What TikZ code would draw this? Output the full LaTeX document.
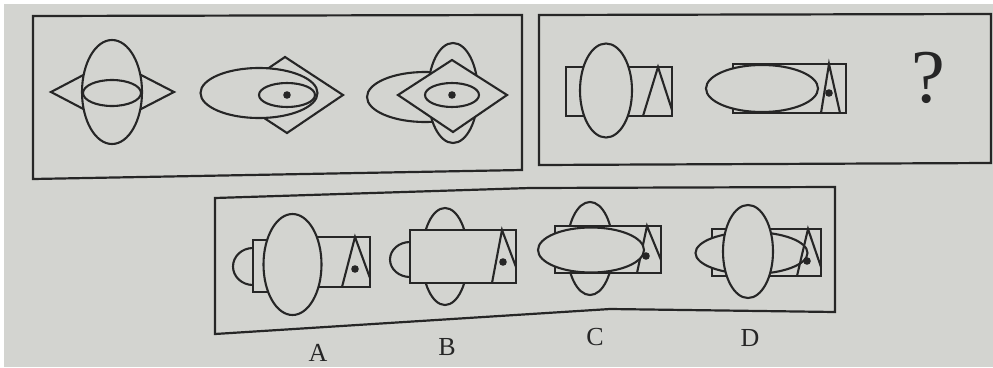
\documentclass[tikz,border=0pt]{standalone}
\usepackage{fontspec}
\setmainfont{Liberation Serif}
\usetikzlibrary{positioning}
\definecolor{paper}{RGB}{211,212,208}
\definecolor{ink}{RGB}{38,38,38}

\begin{document}
\begin{tikzpicture}[
        x=1pt, y=-1pt,
        frame/.style={draw=ink, line width=2.2pt},
        shapebox/.style={draw=ink, fill=paper, line width=2.1pt},
        edge/.style={draw=ink, line width=2.1pt},
        dot/.style={fill=ink},
        letter/.style={font=\fontsize{26}{26}\selectfont, text=ink},
    ]

    % ===== Paper =====
    \useasboundingbox (0,0) rectangle (993,367);
    \fill[white] (0,0) rectangle (993,367);
    \fill[paper] (4,4) rectangle (993,367);

    % ===== Panel 1 =====
    \draw[frame] (33,16) -- (522,15) -- (522,170) -- (33,179) -- cycle;

    % figure 1
    \draw[edge] (51,92) -- (112,60) -- (174,92) -- (112,124) -- cycle;
    \draw[shapebox] (112,92) ellipse [x radius=30, y radius=52];
    \draw[shapebox] (112,93) ellipse [x radius=29, y radius=13];

    % figure 2
    \draw[edge] (285,57) -- (343,95) -- (287,133) -- (229,95) -- cycle;
    \draw[shapebox] (259,93) ellipse [x radius=58.5, y radius=25];
    \draw[shapebox] (287,95) ellipse [x radius=28, y radius=12];
    \fill[dot] (287,95) circle (3.8);

    % figure 3
    \draw[shapebox] (425,97) ellipse [x radius=58, y radius=25];
    \draw[shapebox] (453,93) ellipse [x radius=25, y radius=50];
    \draw[shapebox] (398,95) -- (452,60) -- (507,95) -- (453,132) -- cycle;
    \draw[shapebox] (452,95) ellipse [x radius=27, y radius=12];
    \fill[dot] (452,95) circle (3.8);

    % ===== Panel 2 =====
    \draw[frame] (539,15) -- (991,14) -- (991,163) -- (539,165) -- cycle;

    % figure 1
    \draw[shapebox] (566,67) rectangle (672,116);
    \draw[shapebox] (606,90.5) ellipse [x radius=26, y radius=47];
    \draw[edge] (643,116) -- (658,67) -- (672,110);

    % figure 2
    \draw[shapebox] (733,64) rectangle (846,113);
    \draw[shapebox] (762,88.5) ellipse [x radius=56, y radius=23.5];
    \draw[edge] (821,113) -- (829,64) -- (840,113);
    \fill[dot] (829,93) circle (3.8);

    \node[font=\fontsize{76}{76}\selectfont, text=ink] (QMARK) at (928,78) {?};

    % ===== Options =====
    \draw[frame] (215,198) -- (530,188) -- (835,187) -- (835,312)
        -- (610,309) -- (215,334) -- cycle;

    % option A
    \draw[shapebox] (253,266.5) ellipse [x radius=20, y radius=18.5];
    \draw[shapebox] (253,240) rectangle (270,292);
    \draw[shapebox] (300,237) rectangle (370,287);
    \draw[shapebox] (292.5,264.5) ellipse [x radius=29, y radius=50.5];
    \draw[edge] (342,287) -- (355,237) -- (370,278);
    \fill[dot] (355,269) circle (3.8);

    % option B
    \draw[shapebox] (445,256.5) ellipse [x radius=23, y radius=48.5];
    \draw[shapebox] (410,259.5) ellipse [x radius=20, y radius=17.5];
    \draw[shapebox] (410,230) rectangle (516,283);
    \draw[edge] (492,283) -- (502,230) -- (516,267);
    \fill[dot] (503,262) circle (3.8);

    % option C
    \draw[shapebox] (590,248.5) ellipse [x radius=23, y radius=46.5];
    \draw[shapebox] (555,226) rectangle (661,273);
    \draw[edge] (637,273) -- (647,226) -- (661,260);
    \draw[shapebox] (591,250) ellipse [x radius=53, y radius=22.5];
    \fill[dot] (646,256) circle (3.8);

    % option D
    \draw[shapebox] (712,229) rectangle (821,276);
    \draw[shapebox] (751.5,253) ellipse [x radius=56, y radius=21];
    \draw[edge] (797,276) -- (808,229) -- (821,267);
    \fill[dot] (807,261) circle (3.8);
    \draw[shapebox] (748,251.5) ellipse [x radius=25, y radius=46.5];

    % ===== Labels =====
    \node[letter] (LBL_A) at (318,353) {A};
    \node[letter] (LBL_B) at (447,347) {B};
    \node[letter] (LBL_C) at (595,337) {C};
    \node[letter] (LBL_D) at (750,338) {D};

\end{tikzpicture}
\end{document}
